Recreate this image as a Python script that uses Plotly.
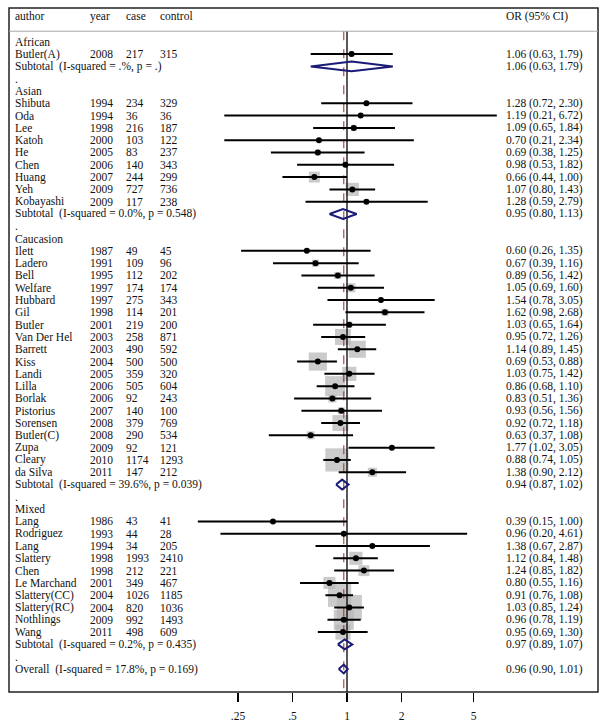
import math
import plotly.graph_objects as go

# ---------------- data ----------------
groups = ["African", "Asian", "Caucasion", "Mixed"]
study_group = [0] + [1] * 9 + [2] * 19 + [3] * 10
authors = ["Butler(A)",
           "Shibuta", "Oda", "Lee", "Katoh", "He", "Chen", "Huang", "Yeh", "Kobayashi",
           "Ilett", "Ladero", "Bell", "Welfare", "Hubbard", "Gil", "Butler", "Van Der Hel",
           "Barrett", "Kiss", "Landi", "Lilla", "Borlak", "Pistorius", "Sorensen", "Butler(C)",
           "Zupa", "Cleary", "da Silva",
           "Lang", "Rodriguez", "Lang", "Slattery", "Chen", "Le Marchand", "Slattery(CC)",
           "Slattery(RC)", "Nothlings", "Wang"]
years = [2008,
         1994, 1994, 1998, 2000, 2005, 2006, 2007, 2009, 2009,
         1987, 1991, 1995, 1997, 1997, 1998, 2001, 2003, 2003, 2004, 2005, 2006, 2006, 2007,
         2008, 2008, 2009, 2010, 2011,
         1986, 1993, 1994, 1998, 1998, 2001, 2004, 2004, 2009, 2011]
cases = [217,
         234, 36, 216, 103, 83, 140, 244, 727, 117,
         49, 109, 112, 174, 275, 114, 219, 258, 490, 500, 359, 505, 92, 140, 379, 290, 92,
         1174, 147,
         43, 44, 34, 1993, 212, 349, 1026, 820, 992, 498]
controls = [315,
            329, 36, 187, 122, 237, 343, 299, 736, 238,
            45, 96, 202, 174, 343, 201, 200, 871, 592, 500, 320, 604, 243, 100, 769, 534, 121,
            1293, 212,
            41, 28, 205, 2410, 221, 467, 1185, 1036, 1493, 609]
or_est = [1.06,
          1.28, 1.19, 1.09, 0.70, 0.69, 0.98, 0.66, 1.07, 1.28,
          0.60, 0.67, 0.89, 1.05, 1.54, 1.62, 1.03, 0.95, 1.14, 0.69, 1.03, 0.86, 0.83, 0.93,
          0.92, 0.63, 1.77, 0.88, 1.38,
          0.39, 0.96, 1.38, 1.12, 1.24, 0.80, 0.91, 1.03, 0.96, 0.95]
or_lo = [0.63,
         0.72, 0.21, 0.65, 0.21, 0.38, 0.53, 0.44, 0.80, 0.59,
         0.26, 0.39, 0.56, 0.69, 0.78, 0.98, 0.65, 0.72, 0.89, 0.53, 0.75, 0.68, 0.51, 0.56,
         0.72, 0.37, 1.02, 0.74, 0.90,
         0.15, 0.20, 0.67, 0.84, 0.85, 0.55, 0.76, 0.85, 0.78, 0.69]
or_hi = [1.79,
         2.30, 6.72, 1.84, 2.34, 1.25, 1.82, 1.00, 1.43, 2.79,
         1.35, 1.16, 1.42, 1.60, 3.05, 2.68, 1.64, 1.26, 1.45, 0.88, 1.42, 1.10, 1.36, 1.56,
         1.18, 1.08, 3.05, 1.05, 2.12,
         1.00, 4.61, 2.87, 1.48, 1.82, 1.16, 1.08, 1.24, 1.19, 1.30]
weights = [0.42,
           0.27, 0.08, 0.6, 0.1, 0.6, 0.42, 1.95, 2.85, 0.27,
           0.15, 0.82, 0.82, 1.35, 0.27, 0.82, 0.6, 4.2, 4.8, 5.4, 3.3, 6.6, 1.05, 0.82,
           4.2, 1.05, 0.27, 8.85, 1.35,
           0.15, 0.08, 0.27, 2.85, 1.95, 2.4, 8.85, 10.35, 6.6, 3.75]
sub_labels = ["Subtotal  (I-squared = .%, p = .)",
              "Subtotal  (I-squared = 0.0%, p = 0.548)",
              "Subtotal  (I-squared = 39.6%, p = 0.039)",
              "Subtotal  (I-squared = 0.2%, p = 0.435)"]
sub_or = [1.06, 0.95, 0.94, 0.97]
sub_lo = [0.63, 0.80, 0.87, 0.89]
sub_hi = [1.79, 1.13, 1.02, 1.07]
overall_label = "Overall  (I-squared = 17.8%, p = 0.169)"
overall = [0.96, 0.90, 1.01]
header = ["author", "year", "case", "control", "OR (95% CI)"]
tick_vals = [0.25, 0.5, 1, 2, 5]
tick_text = [".25", ".5", "1", "2", "5"]

# ---------------- layout of rows ----------------
FONT = "Liberation Serif"
FS = 11.5
TXT = "#111111"
NAVY = "#1a1a78"

col_x = [0.006, 0.134, 0.195, 0.253, 0.84]   # paper fractions of text columns

rows = []
r = 0
study_rows = []
sub_rows = []
for g, gname in enumerate(groups):
    rows.append((r, "text", [gname])); r += 1
    for i, sg in enumerate(study_group):
        if sg == g:
            study_rows.append(r)
            rows.append((r, "study", i)); r += 1
    sub_rows.append(r)
    rows.append((r, "sub", g)); r += 1
    rows.append((r, "text", ["."])); r += 1
overall_row = r

def fmt(o, l, h):
    return f"{o:.2f} ({l:.2f}, {h:.2f})"

ann = []
def add_text(xp, yv, s):
    ann.append(dict(x=xp, y=yv, xref="paper", yref="y", text=s.replace("  ", "\u00a0\u00a0"),
                    showarrow=False, xanchor="left", yanchor="middle",
                    font=dict(family=FONT, size=FS, color=TXT)))

HEAD_Y = -2.07
for k, h in enumerate(header):
    add_text(col_x[k], HEAD_Y, h)

for (ri, kind, p) in rows:
    if kind == "text":
        add_text(col_x[0], ri, p[0])
    elif kind == "study":
        add_text(col_x[0], ri, authors[p])
        add_text(col_x[1], ri, str(years[p]))
        add_text(col_x[2], ri, str(cases[p]))
        add_text(col_x[3], ri, str(controls[p]))
        add_text(col_x[4], ri, fmt(or_est[p], or_lo[p], or_hi[p]))
    elif kind == "sub":
        add_text(col_x[0], ri, sub_labels[p])
        add_text(col_x[4], ri, fmt(sub_or[p], sub_lo[p], sub_hi[p]))
add_text(col_x[0], overall_row, overall_label)
add_text(col_x[4], overall_row, fmt(*overall))

fig = go.Figure()

Y_TOP, Y_BOT = -2.749, 52.87
LINE_TOP = -0.86

# weight boxes
fig.add_trace(go.Scatter(
    x=or_est, y=study_rows, mode="markers",
    marker=dict(symbol="square", color="#b5b5b5", size=[7.8 * math.sqrt(w) for w in weights],
                line=dict(width=0)),
    hoverinfo="skip"))

# reference lines
fig.add_trace(go.Scatter(x=[1, 1], y=[LINE_TOP, Y_BOT], mode="lines",
                         line=dict(color="black", width=1.3), hoverinfo="skip"))
fig.add_trace(go.Scatter(x=[overall[0], overall[0]], y=[LINE_TOP, Y_BOT], mode="lines",
                         line=dict(color="#9b3c3c", width=1.1, dash="dash"), hoverinfo="skip"))

# CI lines
cx, cy = [], []
for i, ri in enumerate(study_rows):
    cx += [or_lo[i], or_hi[i], None]
    cy += [ri, ri, None]
fig.add_trace(go.Scatter(x=cx, y=cy, mode="lines", line=dict(color="black", width=2),
                         hoverinfo="skip"))

# point estimates
fig.add_trace(go.Scatter(x=or_est, y=study_rows, mode="markers",
                         marker=dict(symbol="circle", color="black", size=6),
                         hoverinfo="skip"))

# diamonds
H = 0.4
dx, dy = [], []
for g in range(len(groups)):
    ri = sub_rows[g]
    dx += [sub_lo[g], sub_or[g], sub_hi[g], sub_or[g], sub_lo[g], None]
    dy += [ri, ri - H, ri, ri + H, ri, None]
dx += [overall[1], overall[0], overall[2], overall[0], overall[1]]
dy += [overall_row, overall_row - 0.36, overall_row, overall_row + 0.36, overall_row]
fig.add_trace(go.Scatter(x=dx, y=dy, mode="lines", line=dict(color=NAVY, width=2),
                         hoverinfo="skip"))

shapes = [
    dict(type="rect", xref="paper", yref="paper", x0=0, x1=1, y0=0, y1=1,
         line=dict(color="#222222", width=1.5)),
    dict(type="line", xref="paper", yref="y", x0=0, x1=1, y0=LINE_TOP, y1=LINE_TOP,
         line=dict(color="#a8a8a8", width=1)),
]

fig.update_layout(
    width=603, height=727,
    margin=dict(l=9, r=5, t=8, b=31),
    plot_bgcolor="white", paper_bgcolor="white",
    showlegend=False,
    annotations=ann, shapes=shapes,
    xaxis=dict(type="log", range=[-1.867, 1.3864], tickvals=tick_vals, ticktext=tick_text,
               ticks="outside", ticklen=9, tickwidth=1.2, tickcolor="black",
               showgrid=False, zeroline=False, showline=False,
               tickfont=dict(family=FONT, size=FS, color=TXT), ticklabelstandoff=4),
    yaxis=dict(range=[Y_BOT, Y_TOP], visible=False, showgrid=False, zeroline=False),
)

fig.write_html("out.html",
               config={"displayModeBar": False, "staticPlot": True},
               post_script="document.body.style.margin='0';document.body.style.overflow='hidden';")
